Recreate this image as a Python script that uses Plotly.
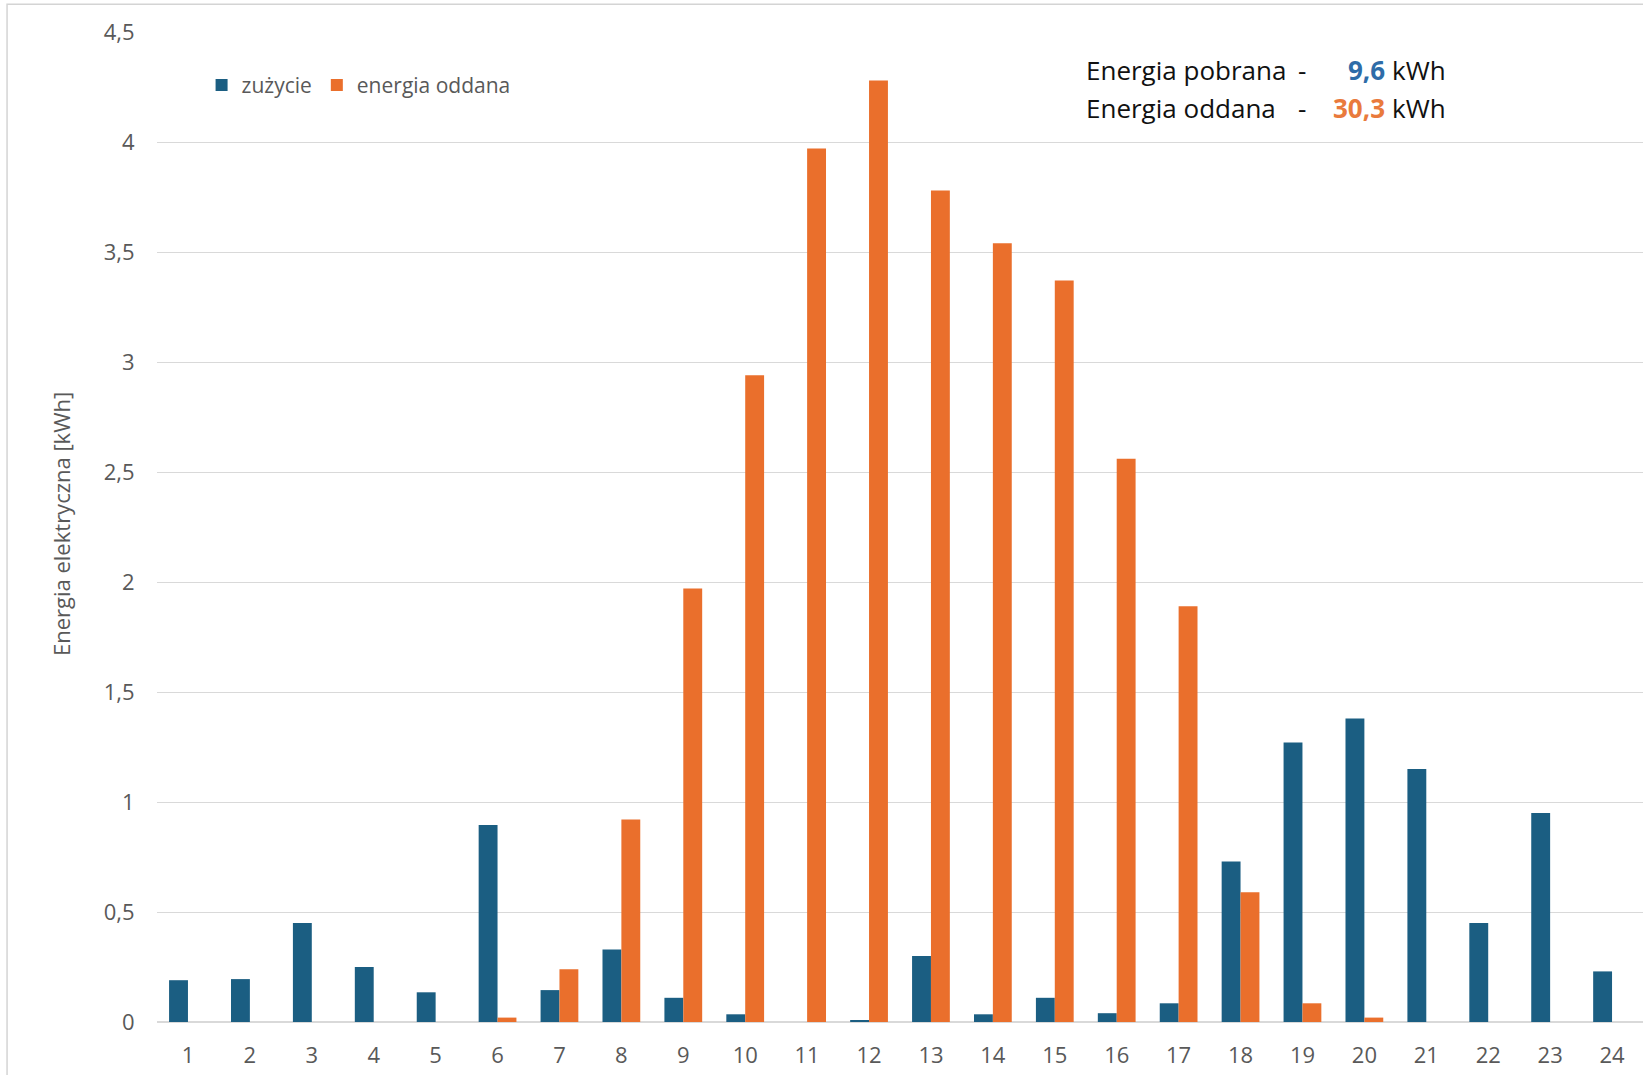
import plotly.graph_objects as go

# Hourly energy balance (kWh)
hours = list(range(1, 25))
zuzycie = [0.19, 0.195, 0.45, 0.25, 0.135, 0.895, 0.145, 0.33, 0.11, 0.035, 0.0, 0.005,
           0.30, 0.035, 0.11, 0.04, 0.085, 0.73, 1.27, 1.38, 1.15, 0.45, 0.95, 0.23]
oddana = [0.0, 0.0, 0.0, 0.0, 0.0, 0.02, 0.24, 0.92, 1.97, 2.94, 3.97, 4.28,
          3.78, 3.54, 3.37, 2.56, 1.89, 0.59, 0.085, 0.02, 0.0, 0.0, 0.0, 0.0]
y_ticks = [0, 0.5, 1, 1.5, 2, 2.5, 3, 3.5, 4, 4.5]
y_tick_text = ["0", "0,5", "1", "1,5", "2", "2,5", "3", "3,5", "4", "4,5"]

total_pobrana = "9,6"
total_oddana = "30,3"

BLUE = "#1b5e82"
ORANGE = "#ea6f2c"
GRID = "#d9d9d9"
TXT = "#595959"
FONT = "Open Sans, Roboto, sans-serif"

fig = go.Figure()
fig.add_trace(go.Bar(x=hours, y=zuzycie, name="zużycie", marker_color=BLUE,
                     marker_line_width=0))
fig.add_trace(go.Bar(x=hours, y=oddana, name="energia oddana", marker_color=ORANGE,
                     marker_line_width=0))

fig.update_layout(
    width=1643, height=1075,
    margin=dict(l=157, r=0, t=32, b=53),
    paper_bgcolor="white", plot_bgcolor="white",
    barmode="group", bargap=0.39, bargroupgap=0,
    separators=", ",
    font=dict(family=FONT, size=21, color=TXT),
    showlegend=True,
    legend=dict(orientation="h", x=0.030, y=0.946, xanchor="left", yanchor="middle",
                font=dict(family=FONT, size=21, color=TXT),
                bgcolor="rgba(0,0,0,0)", itemwidth=30, traceorder="normal"),
    xaxis=dict(range=[0.5, 24.5], tickmode="array", tickvals=hours,
               ticktext=[str(h) for h in hours], showgrid=False, zeroline=False,
               showline=False, ticks="outside", ticklen=14, tickcolor="rgba(0,0,0,0)",
               tickfont=dict(family=FONT, size=22, color=TXT)),
    yaxis=dict(range=[0, 4.5], tickmode="array", tickvals=y_ticks, ticktext=y_tick_text,
               showgrid=True, gridcolor=GRID, gridwidth=1.3, zeroline=True,
               zerolinecolor=GRID, zerolinewidth=1.5, showline=False,
               ticks="outside", ticklen=17, tickcolor="rgba(0,0,0,0)",
               tickfont=dict(family=FONT, size=22, color=TXT)),
)

# Outer chart frame
fig.add_shape(type="rect", xref="paper", yref="paper",
              x0=-0.1009, x1=1.2, y0=-0.2, y1=1.028,
              line=dict(color="#d4d4d4", width=1.5), fillcolor="rgba(0,0,0,0)", layer="below")

# Y axis title
fig.add_annotation(xref="paper", yref="paper", x=-0.0646, y=0.503,
                   text="Energia elektryczna [kWh]", textangle=-90, showarrow=False,
                   font=dict(family=FONT, size=22, color=TXT),
                   xanchor="center", yanchor="middle")

# Totals box
rows = [("Energia pobrana", total_pobrana, "#2e6ca8", 0.962),
        ("Energia oddana", total_oddana, "#e97a3c", 0.923)]
for label, val, col, yy in rows:
    fig.add_annotation(xref="paper", yref="paper", x=0.6238, y=yy, text=label,
                       showarrow=False, xanchor="left", yanchor="middle",
                       font=dict(family=FONT, size=26, color="#111111"))
    fig.add_annotation(xref="paper", yref="paper", x=0.7705, y=yy, text="-",
                       showarrow=False, xanchor="center", yanchor="middle",
                       font=dict(family=FONT, size=26, color="#111111"))
    fig.add_annotation(xref="paper", yref="paper", x=0.8275, y=yy, text=f"<b>{val}</b>",
                       showarrow=False, xanchor="right", yanchor="middle",
                       font=dict(family=FONT, size=26, color=col))
    fig.add_annotation(xref="paper", yref="paper", x=0.8300, y=yy, text="kWh",
                       showarrow=False, xanchor="left", yanchor="middle",
                       font=dict(family=FONT, size=26, color="#111111"))

fig.write_html("out.html")
